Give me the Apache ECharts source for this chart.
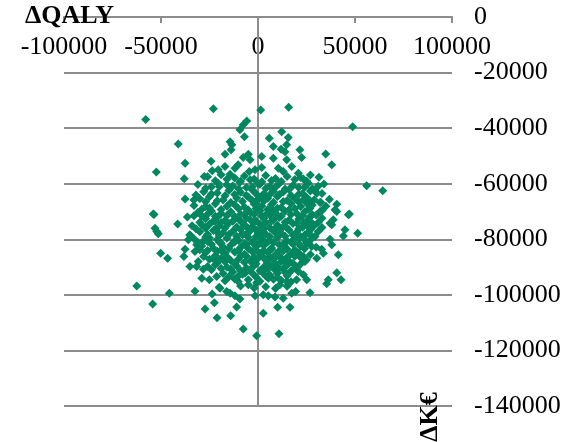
<!DOCTYPE html>
<html>
<head>
<meta charset="utf-8">
<script src="https://cdn.jsdelivr.net/npm/echarts@6/dist/echarts.min.js"></script>
<style>
  html, body { margin: 0; padding: 0; background: #fff; }
  #chart { width: 577px; height: 442px; }
</style>
</head>
<body>
<div id="chart"></div>
<script>
// Axis ranges and tick steps
const xRange = [-100000, 100000];
const xStep = 50000;
const yRange = [-140000, 0];
const yStep = 20000;

// Sparse points around the edge of the cloud [x, y]
const outerPoints = [
  [-57900,-36900],[-23000,-33000],[1400,-33500],[15800,-32500],[48800,-39500],
  [-41100,-45700],[-37600,-52600],[-52400,-55800],[-38000,-58200],[-24200,-51900],
  [-23600,-55300],[-27700,-57400],[-37600,-65500],[-33100,-65900],[-54000,-70900],
  [-53600,-71100],[-36400,-72000],[-41400,-74500],[-53100,-76000],[-52200,-77200],
  [-51400,-78000],[-35100,-78400],[-35900,-80200],[-50200,-85000],[-46600,-86800],
  [-37600,-83600],[-38200,-86200],[-35100,-89800],[-62500,-96800],[-45700,-99400],
  [-54300,-103300],[-32500,-98700],[-23600,-99700],[-22500,-102800],[-27300,-105100],
  [-21100,-108200],[-14100,-107500],[-11000,-104400],[-7600,-112300],[-700,-114700],
  [2700,-106600],[10800,-114000],[10100,-104500],[16500,-104500],[-9300,-101500],
  [56000,-60700],[64300,-62500],[46600,-71200],[47100,-70900],[44800,-76600],
  [44000,-78800],[51400,-77800],[41400,-85600],[40600,-92000],[36200,-94600],
  [35400,-96000],[42800,-94600],[26800,-99200]
];

// Upper band of the cloud [x, y]
const upperPoints = [
  [-5800,-37400],[-7600,-38800],[-9300,-40600],[-7000,-43100],[-14400,-44900],
  [-13500,-46000],[-13900,-47800],[-17000,-49400],[5800,-43600],[12200,-41300],
  [15600,-43400],[7900,-46600],[14800,-46000],[13900,-48500],[11900,-47600],
  [1900,-50200],[7900,-50800],[14800,-51400],[-5000,-49400],[-4100,-51400],
  [-7600,-50600],[-10200,-53200],[-11900,-54400],[-14400,-56600],[-17000,-53800],
  [-20500,-55000],[-4500,-55600],[-1500,-55000],[1900,-54200],[10500,-54400],
  [13000,-55600],[17400,-53800],[20800,-56200],[-20500,-59800],[-16100,-60400],
  [-9300,-59500],[21600,-47800],[22500,-50600],[34900,-49300],[38000,-53200],
  [31400,-57700],[23400,-58300],[25900,-59800],[34000,-60100],[29400,-62600],
  [30300,-63400],[36800,-65600],[32300,-66700],[40600,-67400],[39700,-69400],
  [23400,-65800],[25100,-67000],[26800,-68800],[32000,-70000]
];

// Flanks of the cloud [x, y]
const flankPoints = [
  [-29000,-71500],[-29000,-74800],[-31600,-82000],[-32500,-84400],[-30800,-88000],
  [-31600,-89800],[-28200,-90800],[-29000,-94000],[-25100,-94600],
  [-27000,-76000],[-25000,-79500],[-22000,-73500],[-20000,-81000],[-26000,-84000],
  [-23000,-87000],[-19000,-90500],[-21000,-77500],[-28000,-80500],
  [38800,-73000],[37100,-74200],[40600,-70000],[38000,-74800],[37100,-80000],
  [38000,-82000],[32800,-83600],[33700,-85000],[30300,-86800],[23400,-86200],
  [24200,-88000],[23400,-92800],[25100,-94600],[23400,-74200],[25900,-75400],
  [26800,-71800],[24200,-78400],[27600,-82600],[25100,-81400],[29400,-79000],
  [21600,-89200],[20800,-91600]
];

// Lower band of the cloud [x, y]
const lowerPoints = [
  [-1500,-100300],[2700,-100000],[5300,-100300],[8800,-100800],[13000,-101200],
  [17400,-99400],[19400,-98800],[-16100,-98800],[-11900,-100300],[-14400,-99400],
  [-6700,-92200],[-10200,-95200],[-5000,-96400],[-700,-95600],[5300,-94000],
  [11300,-96400],[14800,-95200],[19900,-94600],[-19600,-97600],[-21300,-93400]
];

// Dense core of the cloud [x, y]
const corePoints = [
  [-26000,-57500],[-19000,-56800],[-12000,-57900],[-7000,-57200],[-2000,-58300],[4000,-57000],[9000,-58100],[15000,-57400],[22000,-57800],[27000,-56900],
  [-31000,-60300],[-24000,-61100],[-13000,-60800],[-6000,-61400],[1000,-60200],[6000,-61000],[11000,-59900],[18000,-60600],[24000,-61300],[31000,-60900],
  [-28000,-62900],[-21000,-63300],[-15000,-62400],[-9000,-63100],[-3000,-62200],[3000,-63600],[8000,-62700],[13000,-63000],[16000,-62100],[21000,-63800],[27000,-62600],[33000,-63500],
  [-30000,-65400],[-25000,-64700],[-18000,-65900],[-11000,-65100],[-5000,-64800],[0,-65600],[5000,-65200],[10000,-64600],[15000,-66000],[19000,-65300],[25000,-64900],[29000,-65800],
  [-33000,-67800],[-27000,-68300],[-22000,-67200],[-16000,-68100],[-12000,-67600],[-7000,-68400],[-2000,-67300],[2000,-68000],[7000,-67500],[12000,-68600],[17000,-67100],[22000,-68200],[28000,-67700],[35000,-68100],
  [-31000,-70400],[-24000,-69800],[-19000,-70700],[-14000,-70100],[-9000,-71000],[-4000,-70300],[1000,-69700],[4000,-71200],[9000,-70500],[14000,-69900],[20000,-70800],[24000,-70200],[30000,-71300],
  [-27000,-72600],[-21000,-72100],[-17000,-73200],[-10000,-72800],[-6000,-72300],[-1000,-73400],[3000,-72500],[8000,-73000],[11000,-72200],[16000,-73100],[21000,-72700],[27000,-73600],[33000,-72400],
  [-34000,-75100],[-25000,-74600],[-20000,-75300],[-15000,-74200],[-11000,-75600],[-7000,-74800],[-3000,-75400],[1000,-74500],[6000,-75800],[10000,-74900],[13000,-75500],[18000,-74300],[23000,-75700],[29000,-75000],
  [-30000,-77300],[-23000,-76800],[-18000,-77600],[-13000,-77100],[-8000,-77900],[-4000,-76900],[0,-77700],[4000,-78200],[8000,-77000],[12000,-77800],[16000,-76700],[20000,-77400],[25000,-78100],[31000,-77200],
  [-33000,-79800],[-27000,-79200],[-21000,-80100],[-16000,-79600],[-10000,-80400],[-5000,-79300],[-2000,-80700],[2000,-79900],[6000,-80300],[10000,-79400],[15000,-80600],[19000,-79700],[24000,-80200],[28000,-79500],
  [-29000,-82400],[-24000,-81800],[-18000,-82700],[-14000,-82100],[-9000,-83000],[-6000,-81900],[-1000,-82600],[3000,-82200],[7000,-83100],[11000,-82000],[14000,-82800],[18000,-81700],[22000,-82500],[30000,-82900],
  [-27000,-84800],[-21000,-84300],[-17000,-85200],[-12000,-84600],[-7000,-85400],[-3000,-84400],[1000,-85100],[5000,-84700],[9000,-85600],[13000,-84200],[17000,-85300],[21000,-84900],[27000,-85500],
  [-25000,-87200],[-19000,-86800],[-14000,-87600],[-10000,-87100],[-4000,-87800],[0,-86900],[4000,-87500],[8000,-87300],[12000,-86700],[16000,-87900],[25000,-87400],
  [-26000,-89800],[-22000,-89200],[-16000,-90100],[-11000,-89600],[-6000,-90300],[-2000,-89400],[3000,-90000],[7000,-89700],[11000,-90500],[15000,-89300],[19000,-90200],
  [-18000,-92300],[-13000,-91800],[-8000,-92600],[-3000,-92100],[2000,-91700],[6000,-92800],[10000,-92200],[14000,-91900],
  [-17000,-94900],[-12000,-94300],[-5000,-94600],[1000,-95100],[8000,-94400],[12000,-94800],[17000,-95300],
  [-20000,-97300],[-9000,-96800],[-2000,-97500],[4000,-97100],[9000,-97700],[15000,-96900],
  [-4000,-73000],[2000,-76000],[-1000,-79000],[5000,-81000],[-6000,-86000],[3000,-84000],[-2000,-71000],[7000,-69000],
  [0,-60000],[-3000,-66000],[6000,-64000],[-8000,-78500],[9000,-76000],[-12000,-80500],[12000,-88000]
];

// Points between the core rows [x, y]
const coreFillPoints = [
  [-22000,-58900],[-16000,-58400],[-9000,-59100],[-4000,-58600],[2000,-59300],[7000,-58800],[12000,-59200],[19000,-58500],[25000,-59000],
  [-27000,-61600],[-20000,-61000],[-10000,-61800],[-3000,-61200],[4000,-61700],[9000,-61300],[14000,-61900],[21000,-61400],[28000,-61800],
  [-32000,-64100],[-24000,-63700],[-17000,-64300],[-12000,-63900],[-6000,-64200],[-1000,-63600],[2000,-64400],[11000,-63900],[17000,-64200],[23000,-63500],
  [-27000,-66500],[-21000,-66100],[-14000,-66800],[-8000,-66400],[-1000,-66900],[3000,-66200],[8000,-66700],[13000,-66400],[21000,-66600],[27000,-66200],[32000,-66800],
  [-29000,-69200],[-25000,-68700],[-19000,-69300],[-10000,-69000],[-5000,-69500],[-1000,-68900],[5000,-69300],[10000,-68800],[16000,-69400],[19000,-68900],[26000,-69100],[33000,-69600],
  [-33000,-71500],[-26000,-71000],[-22000,-71700],[-16000,-71400],[-12000,-71800],[-7000,-71100],[2000,-71600],[6000,-71300],[12000,-71700],[17000,-71100],[23000,-71600],[28000,-71200],
  [-30000,-73900],[-23000,-73400],[-19000,-74000],[-13000,-73500],[-8000,-74100],[-2000,-73800],[4000,-74000],[7000,-73400],[14000,-73900],[20000,-74200],[25000,-73500],[31000,-74000],
  [-32000,-76200],[-27000,-75800],[-22000,-76300],[-17000,-75900],[-9000,-76500],[-5000,-76100],[-1000,-76700],[3000,-76300],[11000,-76400],[15000,-75900],[21000,-76200],[27000,-76600],[33000,-75800],
  [-35000,-78600],[-26000,-78200],[-20000,-78800],[-15000,-78300],[-11000,-78900],[-6000,-78100],[2000,-78600],[6000,-79000],[10000,-78300],[14000,-78900],[18000,-78500],[22000,-79100],[27000,-78400],
  [-31000,-81200],[-26000,-80800],[-19000,-81400],[-12000,-81000],[-7000,-81600],[-3000,-81100],[1000,-81500],[8000,-81200],[13000,-81700],[17000,-81000],[21000,-81500],[26000,-81100],
  [-30000,-83800],[-23000,-83200],[-19000,-83900],[-15000,-83400],[-10000,-84000],[-5000,-83300],[-1000,-83900],[7000,-83600],[11000,-84100],[15000,-83500],[19000,-83900],[24000,-83400],
  [-28000,-86200],[-22000,-85800],[-16000,-86300],[-9000,-85900],[-2000,-86400],[2000,-85900],[6000,-86300],[10000,-85800],[15000,-86500],[19000,-86100],[22000,-86600],
  [-21000,-88500],[-17000,-88100],[-12000,-88700],[-7000,-88300],[-1000,-88800],[5000,-88400],[9000,-88900],[14000,-88200],[18000,-88600],
  [-24000,-91000],[-14000,-90700],[-9000,-91200],[-4000,-90900],[1000,-91300],[5000,-90700],[9000,-91100],[13000,-90600],[17000,-91400],
  [-15000,-93500],[-10000,-93100],[-1000,-93600],[4000,-93200],[10000,-93700],[15000,-93100]
];

const allPoints = [].concat(outerPoints, upperPoints, flankPoints, lowerPoints, corePoints, coreFillPoints);

const serifFont = "'Liberation Serif', 'Times New Roman', serif";
const gridGray = '#8c8c8c';
const pointGreen = '#00875f';
const plainNumber = v => String(v);

const chart = echarts.init(document.getElementById('chart'), null, { renderer: 'canvas' });

chart.setOption({
  animation: false,
  backgroundColor: '#ffffff',
  grid: { left: 64, right: 125, top: 17, bottom: 36, containLabel: false },
  xAxis: {
    type: 'value',
    position: 'top',
    min: xRange[0],
    max: xRange[1],
    interval: xStep,
    axisLine: { show: true, onZero: false, lineStyle: { color: gridGray, width: 2 } },
    axisTick: { show: true, inside: true, length: 6, lineStyle: { color: gridGray, width: 2 } },
    axisLabel: {
      inside: true,
      margin: 17,
      color: '#000',
      fontFamily: serifFont,
      fontSize: 26,
      showMinLabel: true,
      showMaxLabel: true,
      formatter: plainNumber
    },
    splitLine: { show: false }
  },
  yAxis: {
    type: 'value',
    position: 'right',
    min: yRange[0],
    max: yRange[1],
    interval: yStep,
    axisLine: { show: false },
    axisTick: { show: false },
    axisLabel: {
      margin: 22,
      color: '#000',
      fontFamily: serifFont,
      fontSize: 26,
      formatter: plainNumber
    },
    splitLine: { show: true, lineStyle: { color: gridGray, width: 2 } }
  },
  series: [{
    type: 'scatter',
    data: allPoints,
    symbol: 'diamond',
    symbolSize: 9,
    itemStyle: { color: pointGreen, opacity: 1 },
    markLine: {
      silent: true,
      symbol: ['none', 'none'],
      label: { show: false },
      lineStyle: { color: gridGray, width: 2, type: 'solid' },
      data: [{ xAxis: 0 }],
      z: 1
    },
    z: 3
  }],
  graphic: [
    {
      type: 'text',
      left: 25,
      top: 3,
      z: 10,
      style: {
        text: 'ΔQALY',
        fill: '#000',
        font: "bold 26px 'Liberation Serif', 'Times New Roman', serif"
      }
    },
    {
      type: 'text',
      x: 430,
      y: 417,
      rotation: Math.PI / 2,
      z: 10,
      style: {
        text: 'ΔK€',
        fill: '#000',
        align: 'center',
        verticalAlign: 'middle',
        font: "bold 26px 'Liberation Serif', 'Times New Roman', serif"
      }
    }
  ]
});
</script>
</body>
</html>
